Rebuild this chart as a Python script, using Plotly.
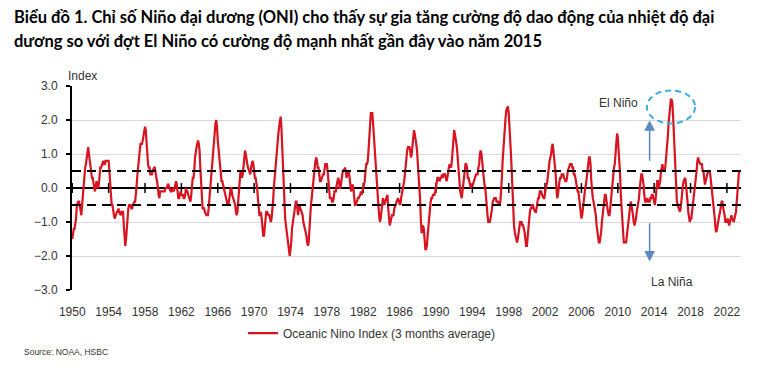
import plotly.graph_objects as go

# Oceanic Nino Index, 3-month running mean (DJF, JFM, ... NDJ)
start_year = 1950
oni_1950s = [
    -1.5, -1.3, -1.2, -1.2, -1.1, -0.9, -0.5, -0.4, -0.4, -0.4, -0.6, -0.8,
    -0.8, -0.5, -0.2, 0.2, 0.4, 0.6, 0.7, 0.9, 1.0, 1.2, 1.0, 0.8,
    0.5, 0.4, 0.3, 0.3, 0.2, 0.0, -0.1, 0.0, 0.2, 0.1, 0.0, 0.1,
    0.4, 0.6, 0.6, 0.7, 0.8, 0.8, 0.7, 0.7, 0.8, 0.8, 0.8, 0.8,
    0.8, 0.5, 0.0, -0.4, -0.5, -0.5, -0.6, -0.8, -0.9, -0.8, -0.7, -0.7,
    -0.7, -0.6, -0.7, -0.8, -0.8, -0.7, -0.7, -0.7, -1.1, -1.4, -1.7, -1.5,
    -1.1, -0.8, -0.6, -0.5, -0.5, -0.5, -0.6, -0.6, -0.5, -0.4, -0.4, -0.4,
    -0.2, 0.1, 0.4, 0.7, 0.9, 1.1, 1.3, 1.3, 1.3, 1.4, 1.5, 1.7,
    1.8, 1.7, 1.3, 0.9, 0.7, 0.6, 0.6, 0.4, 0.4, 0.4, 0.5, 0.6,
    0.6, 0.6, 0.5, 0.3, 0.2, -0.1, -0.2, -0.3, -0.1, -0.1, -0.1, -0.1,
]
oni_1960s = [
    -0.1, -0.1, -0.1, 0.0, 0.0, 0.0, 0.1, 0.1, 0.0, -0.1, -0.1, -0.1,
    0.0, 0.0, -0.1, 0.0, 0.1, 0.2, 0.1, -0.1, -0.3, -0.3, -0.2, -0.1,
    -0.2, -0.2, -0.2, -0.3, -0.3, -0.2, 0.0, -0.1, -0.1, -0.2, -0.3, -0.4,
    -0.4, -0.2, 0.2, 0.3, 0.3, 0.5, 0.9, 1.1, 1.2, 1.3, 1.4, 1.3,
    1.1, 0.6, 0.1, -0.3, -0.6, -0.6, -0.6, -0.7, -0.8, -0.8, -0.8, -0.8,
    -0.6, -0.3, -0.1, 0.2, 0.5, 0.8, 1.2, 1.5, 1.7, 1.9, 2.0, 1.8,
    1.4, 1.2, 1.0, 0.7, 0.4, 0.2, 0.2, 0.1, -0.1, -0.1, -0.2, -0.3,
    -0.4, -0.5, -0.5, -0.4, -0.2, 0.0, 0.0, -0.2, -0.3, -0.4, -0.4, -0.5,
    -0.7, -0.8, -0.7, -0.5, -0.1, 0.2, 0.5, 0.4, 0.3, 0.4, 0.6, 0.8,
    1.1, 1.0, 0.9, 0.7, 0.6, 0.5, 0.4, 0.4, 0.6, 0.7, 0.8, 0.7,
]
oni_1970s = [
    0.5, 0.3, 0.3, 0.2, 0.0, -0.3, -0.6, -0.8, -0.8, -0.7, -0.9, -1.1,
    -1.4, -1.4, -1.1, -0.8, -0.7, -0.7, -0.8, -0.8, -0.8, -0.9, -1.0, -0.9,
    -0.7, -0.4, 0.0, 0.3, 0.6, 0.8, 1.1, 1.4, 1.6, 1.8, 2.1, 2.1,
    1.8, 1.2, 0.5, -0.1, -0.5, -0.9, -1.1, -1.3, -1.5, -1.7, -1.9, -2.0,
    -1.8, -1.6, -1.2, -1.0, -0.9, -0.8, -0.5, -0.4, -0.4, -0.6, -0.8, -0.6,
    -0.5, -0.6, -0.7, -0.7, -0.8, -1.0, -1.1, -1.2, -1.4, -1.4, -1.6, -1.7,
    -1.6, -1.2, -0.7, -0.5, -0.3, 0.0, 0.2, 0.4, 0.6, 0.8, 0.9, 0.8,
    0.6, 0.6, 0.3, 0.2, 0.2, 0.3, 0.3, 0.4, 0.4, 0.6, 0.7, 0.7,
    0.7, 0.5, 0.1, -0.2, -0.3, -0.3, -0.3, -0.4, -0.4, -0.3, -0.1, -0.1,
    -0.1, 0.1, 0.2, 0.3, 0.2, 0.0, 0.0, 0.2, 0.3, 0.5, 0.5, 0.6,
]
oni_1980s = [
    0.6, 0.5, 0.3, 0.4, 0.5, 0.5, 0.3, 0.0, -0.1, 0.0, 0.1, 0.0,
    -0.3, -0.5, -0.5, -0.4, -0.3, -0.3, -0.3, -0.2, -0.2, -0.1, -0.2, -0.1,
    0.0, 0.1, 0.2, 0.5, 0.7, 0.7, 0.8, 1.1, 1.6, 2.0, 2.2, 2.2,
    2.2, 1.9, 1.5, 1.3, 1.1, 0.7, 0.3, -0.1, -0.5, -0.8, -1.0, -0.9,
    -0.6, -0.4, -0.3, -0.4, -0.5, -0.4, -0.3, -0.2, -0.2, -0.6, -0.9, -1.1,
    -1.0, -0.8, -0.8, -0.8, -0.8, -0.6, -0.5, -0.5, -0.4, -0.3, -0.3, -0.4,
    -0.5, -0.5, -0.3, -0.2, -0.1, 0.0, 0.2, 0.4, 0.7, 0.9, 1.1, 1.2,
    1.2, 1.2, 1.1, 0.9, 1.0, 1.2, 1.5, 1.7, 1.6, 1.5, 1.3, 1.1,
    0.8, 0.5, 0.1, -0.3, -0.9, -1.3, -1.3, -1.1, -1.2, -1.5, -1.8, -1.8,
    -1.7, -1.4, -1.1, -0.8, -0.6, -0.4, -0.3, -0.3, -0.2, -0.2, -0.2, -0.1,
]
oni_1990s = [
    0.1, 0.2, 0.3, 0.3, 0.2, 0.2, 0.3, 0.3, 0.4, 0.3, 0.4, 0.4,
    0.4, 0.3, 0.2, 0.3, 0.5, 0.6, 0.7, 0.6, 0.6, 0.8, 1.2, 1.5,
    1.7, 1.6, 1.5, 1.3, 1.1, 0.7, 0.4, 0.1, -0.1, -0.2, -0.3, -0.1,
    0.1, 0.3, 0.5, 0.7, 0.7, 0.6, 0.3, 0.3, 0.2, 0.1, 0.0, 0.1,
    0.1, 0.1, 0.2, 0.3, 0.4, 0.4, 0.4, 0.4, 0.6, 0.7, 1.0, 1.1,
    1.0, 0.7, 0.5, 0.3, 0.1, 0.0, -0.2, -0.5, -0.8, -1.0, -1.0, -1.0,
    -0.9, -0.8, -0.6, -0.4, -0.3, -0.3, -0.3, -0.3, -0.4, -0.4, -0.4, -0.5,
    -0.5, -0.4, -0.1, 0.3, 0.8, 1.2, 1.6, 1.9, 2.1, 2.3, 2.4, 2.4,
    2.2, 1.9, 1.4, 1.0, 0.5, -0.1, -0.8, -1.1, -1.3, -1.4, -1.5, -1.6,
    -1.5, -1.3, -1.1, -1.0, -1.0, -1.0, -1.1, -1.1, -1.2, -1.3, -1.5, -1.7,
]
oni_2000s = [
    -1.7, -1.4, -1.1, -0.8, -0.7, -0.6, -0.6, -0.5, -0.5, -0.6, -0.7, -0.7,
    -0.7, -0.5, -0.4, -0.3, -0.3, -0.1, -0.1, -0.1, -0.2, -0.3, -0.3, -0.3,
    -0.1, 0.0, 0.1, 0.2, 0.4, 0.7, 0.8, 0.9, 1.0, 1.2, 1.3, 1.1,
    0.9, 0.6, 0.4, 0.0, -0.3, -0.2, 0.1, 0.2, 0.3, 0.3, 0.4, 0.4,
    0.4, 0.3, 0.2, 0.2, 0.2, 0.3, 0.5, 0.6, 0.7, 0.7, 0.7, 0.7,
    0.6, 0.6, 0.4, 0.4, 0.3, 0.1, -0.1, -0.1, -0.1, -0.3, -0.6, -0.8,
    -0.9, -0.8, -0.6, -0.4, -0.1, 0.0, 0.1, 0.3, 0.5, 0.8, 0.9, 0.9,
    0.7, 0.2, -0.1, -0.3, -0.4, -0.5, -0.6, -0.8, -1.1, -1.3, -1.5, -1.6,
    -1.6, -1.5, -1.3, -1.0, -0.8, -0.6, -0.4, -0.2, -0.2, -0.4, -0.6, -0.7,
    -0.8, -0.8, -0.6, -0.3, 0.0, 0.3, 0.5, 0.6, 0.7, 1.0, 1.4, 1.6,
]
oni_2010s = [
    1.5, 1.2, 0.8, 0.4, -0.2, -0.7, -1.0, -1.3, -1.6, -1.6, -1.6, -1.6,
    -1.4, -1.2, -0.9, -0.7, -0.6, -0.4, -0.5, -0.6, -0.8, -1.0, -1.1, -1.0,
    -0.9, -0.7, -0.6, -0.5, -0.3, 0.0, 0.2, 0.4, 0.4, 0.3, 0.1, -0.2,
    -0.4, -0.4, -0.3, -0.3, -0.4, -0.4, -0.4, -0.3, -0.3, -0.2, -0.2, -0.3,
    -0.4, -0.5, -0.3, 0.0, 0.2, 0.2, 0.0, 0.1, 0.2, 0.5, 0.6, 0.7,
    0.5, 0.5, 0.5, 0.7, 0.9, 1.2, 1.5, 1.9, 2.2, 2.4, 2.6, 2.6,
    2.5, 2.1, 1.6, 0.9, 0.4, -0.1, -0.4, -0.5, -0.6, -0.7, -0.7, -0.6,
    -0.3, -0.2, 0.1, 0.2, 0.3, 0.3, 0.1, -0.1, -0.4, -0.7, -0.8, -1.0,
    -0.9, -0.9, -0.7, -0.5, -0.2, 0.0, 0.1, 0.2, 0.5, 0.8, 0.9, 0.8,
    0.7, 0.7, 0.7, 0.7, 0.5, 0.5, 0.3, 0.1, 0.2, 0.3, 0.5, 0.5,
]
oni_2020s = [
    0.5, 0.5, 0.4, 0.2, -0.1, -0.3, -0.4, -0.6, -0.9, -1.2, -1.3, -1.2,
    -1.0, -0.9, -0.8, -0.7, -0.5, -0.4, -0.4, -0.5, -0.7, -0.8, -1.0, -1.0,
    -1.0, -0.9, -1.0, -1.1, -1.0, -0.9, -0.8, -0.9, -1.0, -1.0, -0.9, -0.8,
    -0.7, -0.4, -0.1, 0.2, 0.5,
]

tick_years = list(range(1950, 2023, 4))
tick_labels = [str(y) for y in tick_years]
y_ticks = [-3, -2, -1, 0, 1, 2, 3]
thresholds = [0.5, -0.5]

series_name = "Oceanic Nino Index (3 months average)"
title_lines = [
    "Biểu đồ 1. Chỉ số Niño đại dương (ONI) cho thấy sự gia tăng cường độ dao động của nhiệt độ đại",
    "dương so với đợt El Niño có cường độ mạnh nhất gần đây vào năm 2015",
]
source_text = "Source: NOAA, HSBC"

oni = oni_1950s + oni_1960s + oni_1970s + oni_1980s + oni_1990s + oni_2000s + oni_2010s + oni_2020s
x_time = [start_year + i / 12 for i in range(len(oni))]

RED = "#d7141f"
ARROW = "#5b87c2"
TXT = "#333333"
FONT = "Liberation Sans, Arial, sans-serif"

fig = go.Figure()

# small tick marks on the zero (category) axis
fig.add_trace(go.Scatter(
    x=tick_years, y=[0] * len(tick_years), mode="markers",
    marker=dict(symbol="line-ns", size=7, line=dict(color="black", width=1.5)),
    showlegend=False, hoverinfo="skip",
))

fig.add_trace(go.Scatter(
    x=x_time, y=oni, mode="lines", name=series_name,
    line=dict(color=RED, width=2.2),
))

for t in thresholds:
    fig.add_shape(type="line", xref="paper", x0=0, x1=1, yref="y", y0=t, y1=t,
                  line=dict(color="black", width=2, dash="9px,6px"), layer="above")

# El Niño ellipse
fig.add_shape(type="circle", xref="x", yref="y", x0=2013.2, x1=2018.5, y0=1.90, y1=2.87,
              line=dict(color="#3eaee0", width=2, dash="6px,4px"))

fig.add_annotation(x=2013.5, y=1.99, ax=2013.5, ay=0.76, xref="x", yref="y", axref="x", ayref="y",
                   showarrow=True, arrowhead=2, arrowsize=1.4, arrowwidth=1.5, arrowcolor=ARROW, text="")
fig.add_annotation(x=2013.5, y=-2.16, ax=2013.5, ay=-0.99, xref="x", yref="y", axref="x", ayref="y",
                   showarrow=True, arrowhead=2, arrowsize=1.4, arrowwidth=1.5, arrowcolor=ARROW, text="")
fig.add_annotation(x=2010.1, y=2.49, xref="x", yref="y", text="El Niño", showarrow=False,
                   font=dict(size=12, color=TXT, family=FONT))
fig.add_annotation(x=2016.0, y=-2.75, xref="x", yref="y", text="La Niña", showarrow=False,
                   font=dict(size=12, color=TXT, family=FONT))

fig.add_annotation(x=-0.009, y=1.0, xref="paper", yref="paper", text="Index", showarrow=False,
                   xanchor="left", yanchor="bottom", yshift=1,
                   font=dict(size=12, color=TXT, family=FONT))

title_font = dict(family="Lato, Open Sans, sans-serif", size=16.5, color="black")
fig.add_annotation(x=-0.0897, y=1.338, xref="paper", yref="paper", text="<b>" + title_lines[0] + "</b>",
                   showarrow=False, xanchor="left", yanchor="middle", font=title_font)
fig.add_annotation(x=-0.0897, y=1.221, xref="paper", yref="paper", text="<b>" + title_lines[1] + "</b>",
                   showarrow=False, xanchor="left", yanchor="middle", font=title_font)

fig.add_annotation(x=-0.0747, y=-0.304, xref="paper", yref="paper", text=source_text, showarrow=False,
                   xanchor="left", yanchor="middle", font=dict(size=8.5, color=TXT, family=FONT))

fig.update_xaxes(
    range=[1949.97, 2023.55], tickmode="array", tickvals=tick_years, ticktext=tick_labels,
    showgrid=False, zeroline=False, showline=False,
    ticks="outside", ticklen=11, tickcolor="rgba(0,0,0,0)",
    tickfont=dict(size=12, color=TXT, family=FONT),
)
fig.update_yaxes(
    range=[-3, 3], tickmode="array", tickvals=y_ticks, tickformat=".1f",
    showgrid=True, gridcolor="#d9d9d9", gridwidth=1,
    zeroline=True, zerolinecolor="black", zerolinewidth=2,
    showline=True, linecolor="black", linewidth=2,
    ticks="outside", ticklen=4, tickwidth=2, tickcolor="black",
    ticklabelstandoff=6,
    tickfont=dict(size=12, color=TXT, family=FONT),
)

fig.update_layout(
    width=763, height=382,
    margin=dict(l=72, r=22, t=86, b=92),
    paper_bgcolor="white", plot_bgcolor="white",
    showlegend=True,
    legend=dict(orientation="h", x=0.2555, xanchor="left", y=-0.211, yanchor="middle",
                font=dict(size=12, color=TXT, family=FONT), bgcolor="rgba(0,0,0,0)",
                itemwidth=30),
)

fig.write_html("out.html", config={"displayModeBar": False},
               post_script="document.body.style.margin='0px';")
